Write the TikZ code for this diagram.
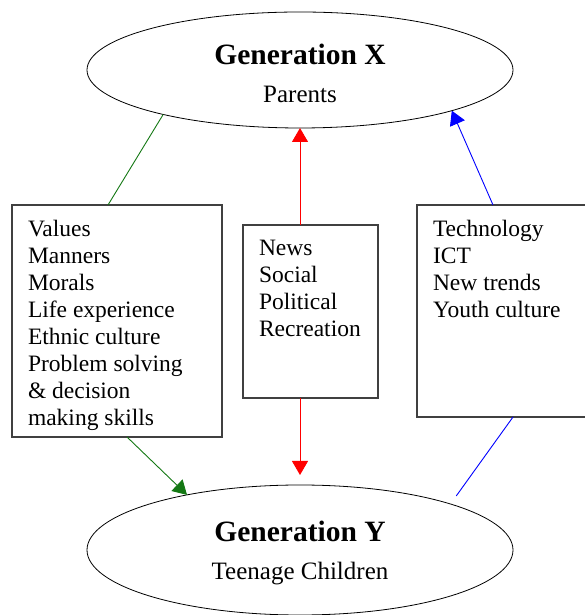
\documentclass[tikz,border=0pt]{standalone}
\usepackage{fontspec}
\setmainfont{Liberation Serif}
\usetikzlibrary{shapes.geometric,arrows.meta}
\definecolor{linkgreen}{RGB}{20,120,20}
\tikzset{
    gen/.style={ellipse, draw=black, line width=0.8pt, minimum width=426pt, inner sep=0pt, outer sep=0pt, align=center, font=\fontsize{25}{38}\selectfont},
    listbox/.style={rectangle, draw=black!75, line width=1.3pt, inner xsep=16pt, inner ysep=15pt, outer sep=0pt, font=\fontsize{23.5}{27}\selectfont},
    link/.style={line width=0.9pt},
    tip/.style={-{Triangle[length=14pt,width=16pt]}}
}
\newcommand{\gentitle}[1]{{\fontsize{29.5}{35}\selectfont\bfseries\rule{0pt}{27pt}#1}}
\newcommand{\boxtext}[3]{\parbox[c][#2][t]{#1}{\raggedright #3}}
\begin{document}
\begin{tikzpicture}[x=1pt,y=1pt]
                \def\w{585};
                \def\h{615};
                \clip (0,0) rectangle (\w,\h);
                \node[gen, minimum height=116pt] (genx) at (300,545) {\gentitle{Generation X}\\ Parents};
                \node[gen, minimum height=130pt] (geny) at (300,65) {\gentitle{Generation Y}\\ Teenage Children};
                \node[listbox] (values) at (117,294) {\boxtext{178pt}{202pt}{Values\\ Manners\\ Morals\\ Life experience\\ Ethnic culture\\ Problem solving\\ \& decision\\ making skills}};
                \node[listbox] (media) at (310.5,303.5) {\boxtext{103pt}{143pt}{News\\ Social\\ Political\\ Recreation}};
                \node[listbox] (tech) at (507,304) {\boxtext{148pt}{182pt}{Technology\\ ICT\\ New trends\\ Youth culture}};
                \draw[link, linkgreen] ([xshift=96pt]values.north west) -- (genx.198.6);
                \draw[link, linkgreen, tip] ([xshift=115pt]values.south west) -- (geny.154.6);
                \draw[link, red, tip] (media.north -| genx.center) -- (genx.south);
                \draw[link, red, tip, shorten >=10pt] (media.south -| geny.center) -- (geny.north);
                \draw[link, blue, tip] ([xshift=76pt]tech.north west) -- (genx.345.6);
                \draw[link, blue, shorten >=10pt] ([xshift=96pt]tech.south west) -- (geny.17.3);
\end{tikzpicture}
\end{document}
